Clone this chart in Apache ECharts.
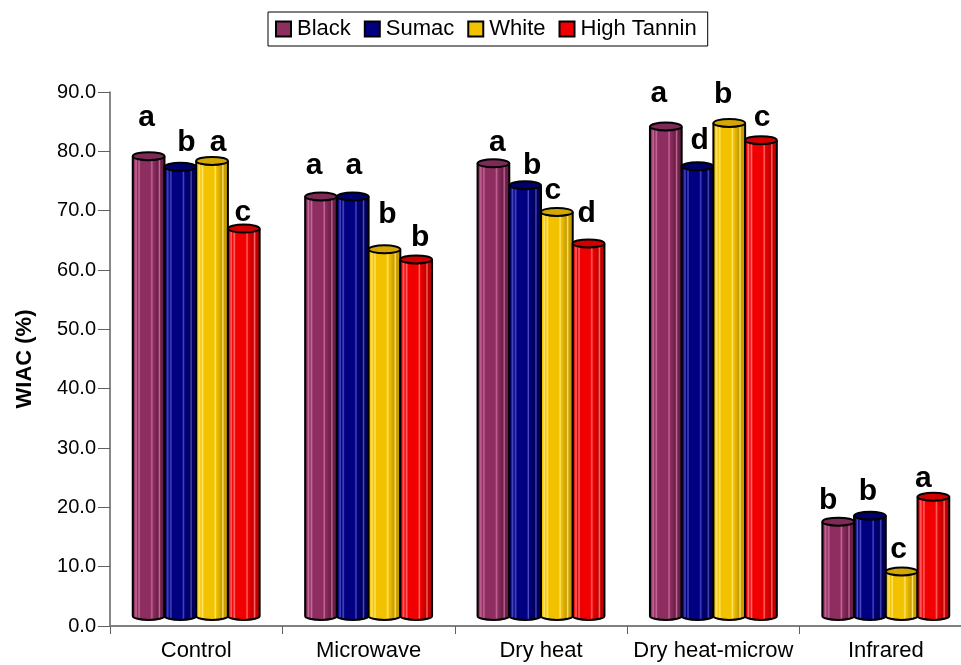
<!DOCTYPE html>
<html>
<head>
<meta charset="utf-8">
<script src="https://cdn.jsdelivr.net/npm/echarts@6/dist/echarts.min.js"></script>
<style>
  html, body { margin: 0; padding: 0; background: #fff; overflow: hidden; }
  /* the plot runs slightly past the right edge of the page */
  #chart { width: 972px; height: 665px; }
</style>
</head>
<body>
<div id="chart"></div>
<script>
// Water imbibition capacity by treatment and variety
const categories = ['Control', 'Microwave', 'Dry heat', 'Dry heat-microw', 'Infrared'];
const seriesNames = ['Black', 'Sumac', 'White', 'High Tannin'];

const blackValues  = [77.5, 70.7, 76.3, 82.5, 15.9];
const sumacValues  = [75.7, 70.7, 72.6, 75.8, 16.9];
const whiteValues  = [76.7, 61.8, 68.1, 83.1, 7.5];
const tanninValues = [65.3, 60.1, 62.8, 80.2, 20.1];

// significance letters (per variety, per treatment)
const blackLetters  = ['a', 'a', 'a', 'a', 'b'];
const sumacLetters  = ['b', 'a', 'b', 'd', 'b'];
const whiteLetters  = ['a', 'b', 'c', 'b', 'c'];
const tanninLetters = ['c', 'b', 'd', 'c', 'a'];

const yTicks = { min: 0, max: 90, interval: 10 };

// ---- styling / layout ----
const palette = [
  { base: '#8e2d60', light: '#c46a98', dark: '#6a1f47', top: '#7d2a56' },
  { base: '#000080', light: '#4a4ac0', dark: '#00005a', top: '#00006c' },
  { base: '#f2c200', light: '#ffe56a', dark: '#c79c00', top: '#d4a600' },
  { base: '#f00000', light: '#ff6a6a', dark: '#c00000', top: '#d00000' }
];
// small hand nudges for the letter labels [dx, dy from top of cylinder]
const letterNudge = [
  [[-2, -28], [-7, -20], [4, -10], [-7, -22], [-10, -10]],
  [[6, -14], [1, -20], [7, -9], [2, -15], [-2, -13]],
  [[6, -8], [3, -24], [-4, -11], [-6, -18], [-3, -11]],
  [[-1, -5], [4, -11], [-2, -19], [1, -12], [-10, -8]]
];

const valueSets = [blackValues, sumacValues, whiteValues, tanninValues];
const letterSets = [blackLetters, sumacLetters, whiteLetters, tanninLetters];

const K = 0.5523;
function ellipsePath(cx, cy, rx, ry) {
  return 'M' + (cx - rx) + ' ' + cy +
    ' C' + (cx - rx) + ' ' + (cy - K * ry) + ' ' + (cx - K * rx) + ' ' + (cy - ry) + ' ' + cx + ' ' + (cy - ry) +
    ' C' + (cx + K * rx) + ' ' + (cy - ry) + ' ' + (cx + rx) + ' ' + (cy - K * ry) + ' ' + (cx + rx) + ' ' + cy +
    ' C' + (cx + rx) + ' ' + (cy + K * ry) + ' ' + (cx + K * rx) + ' ' + (cy + ry) + ' ' + cx + ' ' + (cy + ry) +
    ' C' + (cx - K * rx) + ' ' + (cy + ry) + ' ' + (cx - rx) + ' ' + (cy + K * ry) + ' ' + (cx - rx) + ' ' + cy + ' Z';
}
function bodyPath(cx, yt, yb, rx, ry) {
  return 'M' + (cx - rx) + ' ' + yt +
    ' L' + (cx - rx) + ' ' + yb +
    ' C' + (cx - rx) + ' ' + (yb + K * ry) + ' ' + (cx - K * rx) + ' ' + (yb + ry) + ' ' + cx + ' ' + (yb + ry) +
    ' C' + (cx + K * rx) + ' ' + (yb + ry) + ' ' + (cx + rx) + ' ' + (yb + K * ry) + ' ' + (cx + rx) + ' ' + yb +
    ' L' + (cx + rx) + ' ' + yt;
}
function stripes(c) {
  return {
    type: 'linear', x: 0, y: 0, x2: 1, y2: 0,
    colorStops: [
      { offset: 0.00, color: c.dark },
      { offset: 0.07, color: c.base },
      { offset: 0.13, color: c.light },
      { offset: 0.17, color: c.base },
      { offset: 0.22, color: c.light },
      { offset: 0.26, color: c.base },
      { offset: 0.55, color: c.base },
      { offset: 0.60, color: c.light },
      { offset: 0.63, color: c.base },
      { offset: 0.78, color: c.dark },
      { offset: 0.82, color: c.light },
      { offset: 0.86, color: c.dark },
      { offset: 1.00, color: c.dark }
    ]
  };
}

function makeRenderer(si) {
  return function (params, api) {
    const cat = api.value(0);
    const val = api.value(1);
    const base = api.coord([cat, 0]);
    const top = api.coord([cat, val]);
    const band = api.size([1, 0])[0];
    const w = band * 0.184;
    const rx = w / 2;
    const ry = 4;
    const depth = 10;
    const cx = base[0] + (si - 1.5) * w;
    const yb = base[1] - depth;
    const yt = top[1] - depth;
    const c = palette[si];
    const nudge = letterNudge[si][params.dataIndex];
    return {
      type: 'group',
      children: [
        {
          type: 'path',
          shape: { pathData: bodyPath(cx, yt, yb, rx, ry) },
          style: { fill: stripes(c), stroke: '#000', lineWidth: 2 }
        },
        {
          type: 'path',
          shape: { pathData: ellipsePath(cx, yt, rx, ry) },
          style: { fill: c.top, stroke: '#000', lineWidth: 2 }
        },
        {
          type: 'text',
          style: {
            text: letterSets[si][params.dataIndex],
            x: cx + nudge[0],
            y: yt + nudge[1] - 10.5,
            align: 'center',
            verticalAlign: 'middle',
            fill: '#000',
            font: 'bold 30px "Liberation Sans", Arial, sans-serif'
          }
        }
      ]
    };
  };
}

const series = seriesNames.map(function (name, si) {
  return {
    name: name,
    type: 'custom',
    renderItem: makeRenderer(si),
    encode: { x: 0, y: 1 },
    itemStyle: { color: palette[si].base, borderColor: '#000', borderWidth: 2 },
    data: valueSets[si].map(function (v, i) { return [i, v]; })
  };
});

const chart = echarts.init(document.getElementById('chart'), null, { renderer: 'canvas' });
chart.setOption({
  animation: false,
  backgroundColor: '#fff',
  textStyle: { fontFamily: '"Liberation Sans", Arial, sans-serif' },
  legend: {
    data: seriesNames,
    left: 268,
    top: 12,
    padding: [6, 11, 6, 7],
    borderColor: '#000',
    borderWidth: 1,
    itemWidth: 15,
    itemHeight: 15,
    itemGap: 13,
    icon: 'rect',
    itemStyle: { borderColor: '#000', borderWidth: 2 },
    textStyle: { fontSize: 22, color: '#000', padding: [0, 0, 0, 1] }
  },
  grid: { left: 110, top: 92, right: 0, bottom: 39 },
  xAxis: {
    type: 'category',
    data: categories,
    boundaryGap: true,
    axisLine: { lineStyle: { color: '#808080', width: 2 } },
    axisTick: { show: true, length: 8, lineStyle: { color: '#606060', width: 1 } },
    axisLabel: { fontSize: 22, color: '#000', margin: 14, interval: 0 }
  },
  yAxis: {
    type: 'value',
    min: yTicks.min,
    max: yTicks.max,
    interval: yTicks.interval,
    name: 'WIAC (%)',
    nameLocation: 'middle',
    nameGap: 74,
    nameRotate: 90,
    nameTextStyle: { fontSize: 22, fontWeight: 'bold', color: '#000' },
    axisLine: { show: true, lineStyle: { color: '#606060', width: 1.5 } },
    axisTick: { show: true, length: 12, lineStyle: { color: '#606060', width: 1 } },
    axisLabel: { fontSize: 20, color: '#000', margin: 14, formatter: function (v) { return v.toFixed(1); } },
    splitLine: { show: false }
  },
  series: series
});
</script>
</body>
</html>
